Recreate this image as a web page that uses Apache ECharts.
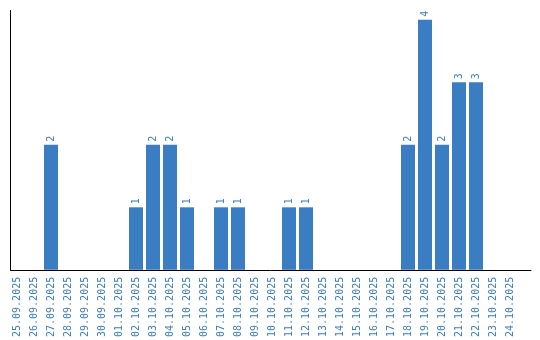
<!DOCTYPE html>
<html>
<head>
<meta charset="utf-8">
<script src="https://cdn.jsdelivr.net/npm/echarts@6/dist/echarts.min.js"></script>
<style>html,body{margin:0;padding:0;background:#fff}#c{width:540px;height:340px}</style>
</head>
<body>
<div id="c"></div>
<script>
const categories = ["25.09.2025","26.09.2025","27.09.2025","28.09.2025","29.09.2025","30.09.2025","01.10.2025","02.10.2025","03.10.2025","04.10.2025","05.10.2025","06.10.2025","07.10.2025","08.10.2025","09.10.2025","10.10.2025","11.10.2025","12.10.2025","13.10.2025","14.10.2025","15.10.2025","16.10.2025","17.10.2025","18.10.2025","19.10.2025","20.10.2025","21.10.2025","22.10.2025","23.10.2025","24.10.2025"];
const values = [null,null,2,null,null,null,null,1,2,2,1,null,1,1,null,null,1,1,null,null,null,null,null,2,4,2,3,3,null,null];

const blue = '#3a7dc3';
const font = 'DejaVu Sans Mono';
const chart = echarts.init(document.getElementById('c'), null, {renderer:'canvas'});
chart.setOption({
  animation: false,
  grid: [
    {left: 8.5, right: 21.5, top: 10.5, bottom: 70},
    {left: 10.5, right: 9, top: 10.5, bottom: 70}
  ],
  xAxis: [
    {type: 'category', gridIndex: 0, data: categories,
     axisLine: {show: false}, axisTick: {show: false},
     axisLabel: {rotate: 90, interval: 0, color: blue, fontFamily: font, fontSize: 10, margin: 7}},
    {type: 'value', gridIndex: 1, min: 0, max: 1,
     axisLine: {show: true, lineStyle: {color: '#000', width: 1}},
     axisTick: {show: false}, axisLabel: {show: false}, splitLine: {show: false}}
  ],
  yAxis: [
    {type: 'value', gridIndex: 0, min: 0, max: 4.15,
     axisLine: {show: false}, axisTick: {show: false}, axisLabel: {show: false}, splitLine: {show: false}},
    {type: 'value', gridIndex: 1, min: 0, max: 1,
     axisLine: {show: true, lineStyle: {color: '#000', width: 1}},
     axisTick: {show: false}, axisLabel: {show: false}, splitLine: {show: false}}
  ],
  series: [{
    type: 'bar', xAxisIndex: 0, yAxisIndex: 0, data: values,
    barWidth: 14,
    itemStyle: {color: blue},
    label: {show: true, position: 'top', rotate: 90, align: 'left', verticalAlign: 'middle',
            distance: 3, color: blue, fontFamily: font, fontSize: 10}
  }]
});
</script>
</body>
</html>
